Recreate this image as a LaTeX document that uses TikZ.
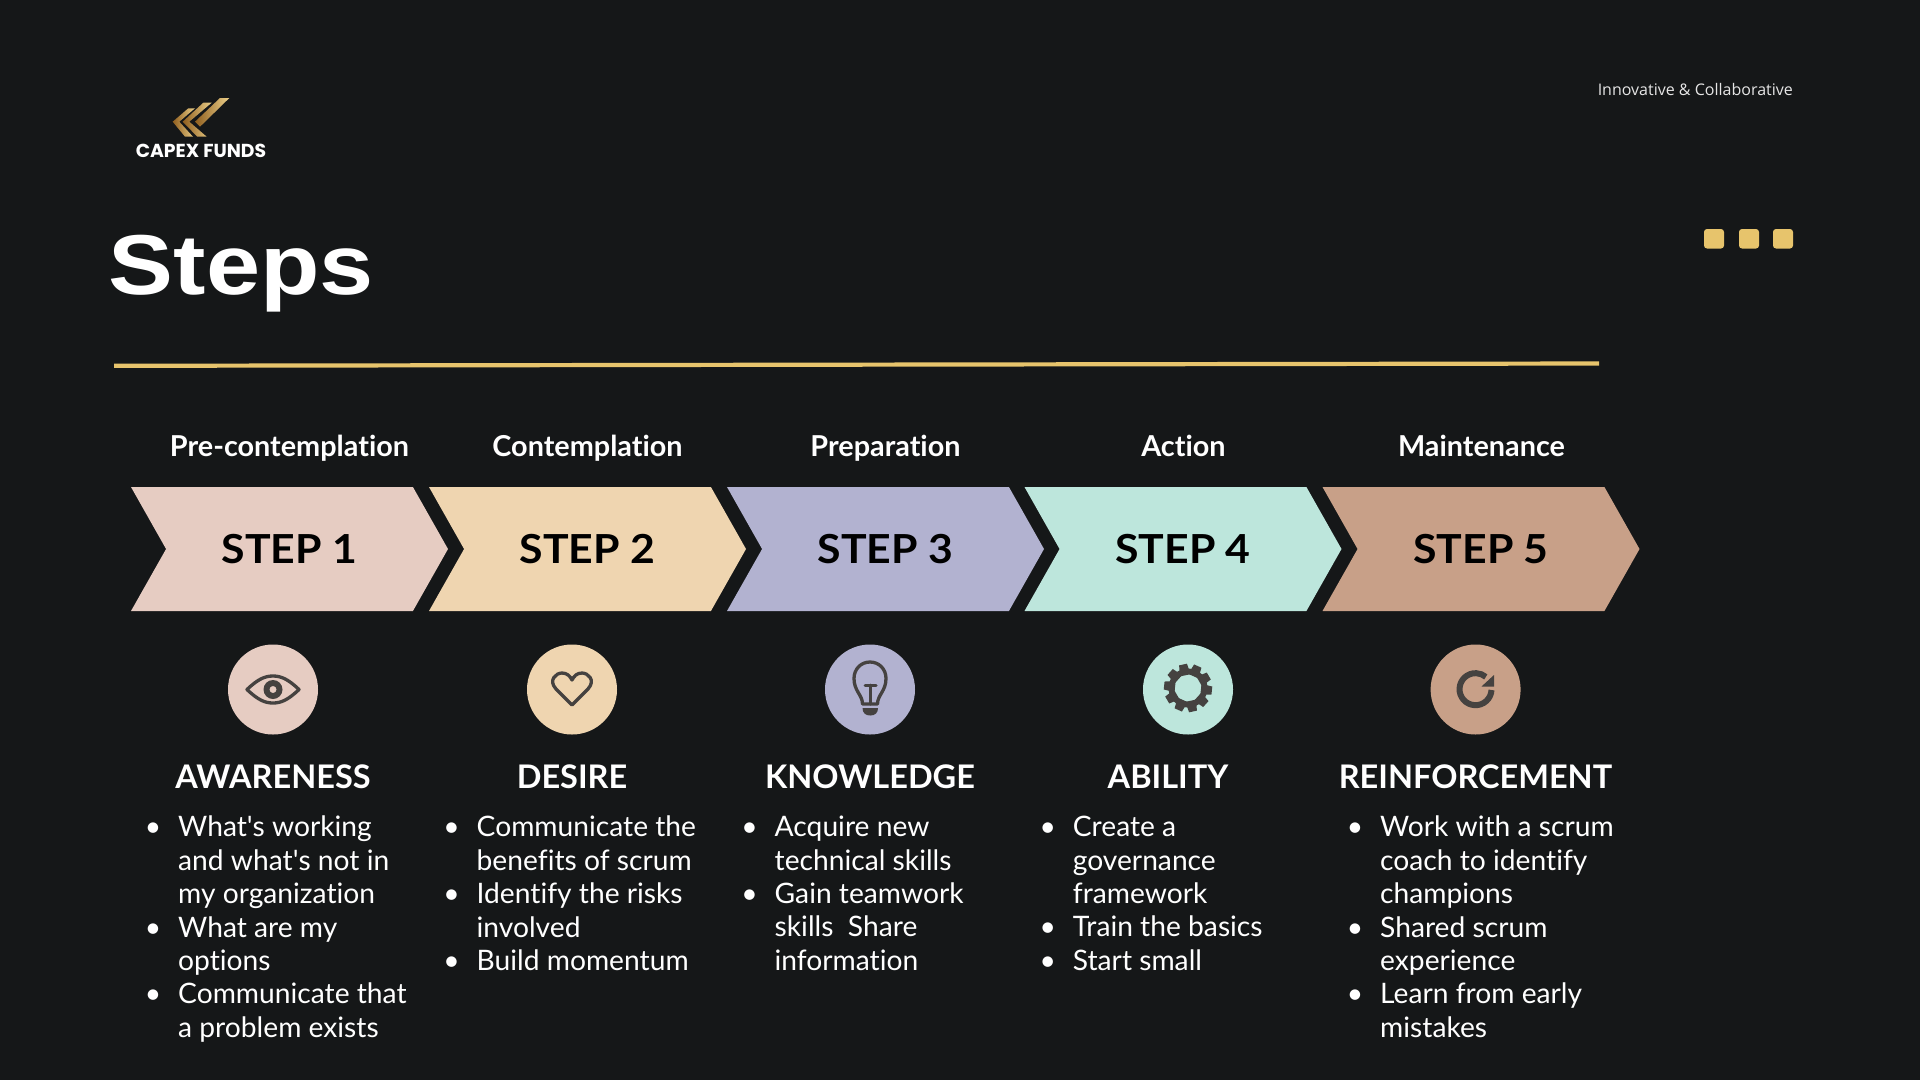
\documentclass[tikz,border=0pt]{standalone}
\usepackage{fontspec}
\setmainfont{Lato}[Ligatures=CommonOff]
\newfontfamily\stepfont{Lato}[FakeStretch=1.07,Ligatures=CommonOff]
\newfontfamily\titlefont[FakeStretch=1.145]{Liberation Sans}
\newfontfamily\logofont{Poppins}
\newfontfamily\tagfont{Open Sans}
\usetikzlibrary{shapes.symbols}
\definecolor{bgdark}{HTML}{151718}
\definecolor{gold}{HTML}{E7C46C}
\definecolor{golddeep}{HTML}{8F5E1E}
\definecolor{icondark}{HTML}{454240}
\definecolor{chevrose}{HTML}{E6CCC2}
\definecolor{chevsand}{HTML}{EFD5B0}
\definecolor{chevlilac}{HTML}{B2B2D0}
\definecolor{chevmint}{HTML}{BDE6DC}
\definecolor{chevclay}{HTML}{C8A088}
\newcommand{\bul}{\leavevmode\llap{\textbullet\hspace{17pt}}}
\newcommand{\apos}{\textquotesingle}
\tikzset{
  chev/.style={signal,signal from=west,signal to=east,signal pointer angle=121,fill=#1,
               minimum width=317pt,minimum height=124pt,inner sep=0,text=black,
               font=\fontsize{40}{44}\selectfont\stepfont\bfseries},
  phaselab/.style={anchor=base,text=white,inner sep=0,font=\fontsize{28.8}{32}\selectfont\bfseries},
  headlab/.style={anchor=base,text=white,inner sep=0,font=\fontsize{32.5}{36}\selectfont\bfseries},
  bodylab/.style={anchor=north west,align=left,text=white,inner sep=0,font=\fontsize{28.2}{33.4}\selectfont},
  iconcirc/.style={circle,fill=#1,minimum size=90pt,inner sep=0},
  icon/.style={draw=icondark,line width=3.3pt,line cap=round,line join=round},
  tick/.style={fill=gold,rounded corners=3pt},
  goldstripe/.style={left color=golddeep,right color=gold!80!white},
}
\begin{document}
\begin{tikzpicture}[x=1pt,y=-1pt]
  \fill[bgdark] (0,0) rectangle (1920,1080);
  \useasboundingbox (0,0) rectangle (1920,1080);
  % logo
  \shade[goldstripe] (188.3,108.3) -- (195,108.3) -- (179.3,121.7) -- (193,136.7) -- (185,136.7) -- (172.7,121.7) -- cycle;
  \shade[goldstripe] (203.3,102.7) -- (211.7,102.7) -- (189.3,121.7) -- (206.7,136.7) -- (197.3,136.7) -- (182.7,121.7) -- cycle;
  \shade[goldstripe] (220,98) -- (229.3,98) -- (200,126.7) -- (195,121.7) -- cycle;
  \node[anchor=base,text=white,inner sep=0,font=\fontsize{18.8}{22}\selectfont\logofont\bfseries] (logo) at (201,157.5) {CAPEX FUNDS};
  % header
  \node[anchor=base east,text=white!90!black,inner sep=0,font=\fontsize{16}{20}\selectfont\tagfont] (tagline) at (1793,95) {Innovative \& Collaborative};
  \node[anchor=base west,text=white,inner sep=0,font=\fontsize{85}{90}\selectfont\titlefont\bfseries] (title) at (108.5,294) {Steps};
  \fill[tick] (1704,229) rectangle (1724,248.5);
  \fill[tick] (1739,229) rectangle (1759,248.5);
  \fill[tick] (1773,229) rectangle (1793,248.5);
  \fill[gold] (114,363.7) -- (1599,361.4) -- (1599,365.6) -- (114,367.9) -- cycle;
  % the five chevrons with their phase above
  \node[chev=chevrose] (stepA) at (289.5,549) {STEP 1};
  \node[chev=chevsand] (stepB) at (587.5,549) {STEP 2};
  \node[chev=chevlilac] (stepC) at (885.5,549) {STEP 3};
  \node[chev=chevmint] (stepD) at (1183,549) {STEP 4};
  \node[chev=chevclay] (stepE) at (1481,549) {STEP 5};
  \node[phaselab] (phaseA) at (289.5,456) {Pre-contemplation};
  \node[phaselab] (phaseB) at (587.5,456) {Contemplation};
  \node[phaselab] (phaseC) at (885.5,456) {Preparation};
  \node[phaselab] (phaseD) at (1183.5,456) {Action};
  \node[phaselab] (phaseE) at (1481.5,456) {Maintenance};
  % icon discs
  \node[iconcirc=chevrose] (discA) at (273,689.5) {};
  \node[iconcirc=chevsand] (discB) at (572,689.5) {};
  \node[iconcirc=chevlilac] (discC) at (870,689.5) {};
  \node[iconcirc=chevmint] (discD) at (1188,689.5) {};
  \node[iconcirc=chevclay] (discE) at (1475.6,689.5) {};
  % eye
  \draw[icon] (247,689.5) .. controls (258,679) and (265,676) .. (273,676) .. controls (281,676) and (288,679) .. (299,689.5)
    .. controls (288,700) and (281,703) .. (273,703) .. controls (265,703) and (258,700) .. (247,689.5) -- cycle;
  \fill[icondark,even odd rule] (273,689.5) circle (9.5) (273,689.5) circle (3.6);
  % heart
  \draw[icon] (572,705) -- (556,689) .. controls (548,680) and (556,673) .. (562,673) .. controls (567,673) and (570,676) .. (572,680)
    .. controls (574,676) and (577,673) .. (582,673) .. controls (588,673) and (596,680) .. (588,689) -- cycle;
  % bulb
  \draw[icon] (862.5,704) .. controls (862.5,695) and (854,691) .. (854,678.5) .. controls (854,669) and (861,662) .. (870,662)
    .. controls (879,662) and (886,669) .. (886,678.5) .. controls (886,691) and (877.5,695) .. (877.5,704) -- cycle;
  \draw[icon,line width=3pt] (865,685) -- (876,685) (870.5,685) -- (870.5,704);
  \fill[icondark] (862.5,708) -- (878,708) .. controls (878,713) and (875,715.5) .. (870.2,715.5) .. controls (865.5,715.5) and (862.5,713) .. (862.5,708) -- cycle;
  % gear
  \foreach \ang in {0,36,...,324}
    \fill[icondark,rotate around={\ang+12:(1188,688)}] (1184,664) -- (1192,664) -- (1193.5,675) -- (1182.5,675) -- cycle;
  \fill[icondark,even odd rule] (1188,688) circle (19.5) (1188,688) circle (14);
  % refresh
  \draw[icondark,line width=6pt] (1491.5,690) arc[start angle=3,end angle=310,radius=16];
  \fill[icondark] (1494,675) -- (1494,686.5) -- (1481.5,686.5) -- cycle;
  % headings
  \node[headlab] (headA) at (273,788.5) {AWARENESS};
  \node[headlab] (headB) at (572,788.5) {DESIRE};
  \node[headlab] (headC) at (870,788.5) {KNOWLEDGE};
  \node[headlab] (headD) at (1168,788.5) {ABILITY};
  \node[headlab] (headE) at (1475.5,788.5) {REINFORCEMENT};
  % bullet lists
  \node[bodylab] (listA) at (178,816) {\bul What\apos s working\\and what\apos s not in\\my organization\\\bul What are my\\options\\\bul Communicate that\\a problem exists};
  \node[bodylab] (listB) at (476.5,816) {\bul Communicate the\\benefits of scrum\\\bul Identify the risks\\involved\\\bul Build momentum};
  \node[bodylab] (listC) at (774.5,816) {\bul Acquire new\\technical skills\\\bul Gain teamwork\\skills\ \ Share\\information};
  \node[bodylab] (listD) at (1072.7,816) {\bul Create a\\governance\\framework\\\bul Train the basics\\\bul Start small};
  \node[bodylab] (listE) at (1380,816) {\bul Work with a scrum\\coach to identify\\champions\\\bul Shared scrum\\experience\\\bul Learn from early\\mistakes};
\end{tikzpicture}
\end{document}
